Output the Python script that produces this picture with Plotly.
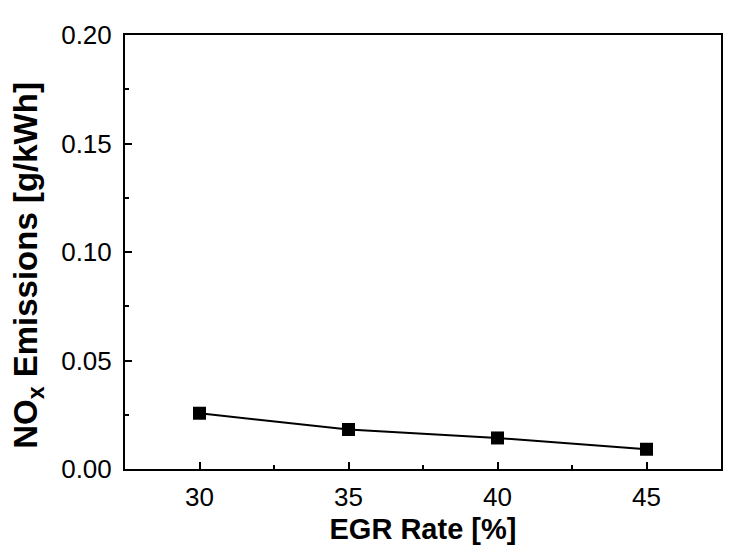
import plotly.graph_objects as go

egr_rate = [30, 35, 40, 45]
nox = [0.0257, 0.0182, 0.0143, 0.0091]

fig = go.Figure()
fig.add_trace(go.Scatter(
    x=egr_rate, y=nox, mode="lines+markers",
    line=dict(color="black", width=2),
    marker=dict(symbol="square", size=13, color="black"),
    showlegend=False,
))

font_family = "Liberation Sans, Arial, sans-serif"
axis_common = dict(
    showline=True, linecolor="black", linewidth=2, mirror=True,
    ticks="inside", ticklen=7, tickwidth=1.5, tickcolor="black",
    showgrid=False, zeroline=False,
    tickfont=dict(family=font_family, size=26, color="black"),
)

fig.update_layout(
    width=749, height=559,
    margin=dict(l=117, r=36, t=22, b=98),
    plot_bgcolor="white", paper_bgcolor="white",
    xaxis=dict(
        range=[27.5, 47.5], tick0=30, dtick=5,
        minor=dict(ticks="inside", dtick=2.5, tick0=30, ticklen=4, tickwidth=1.5, tickcolor="black"),
        ticklabelstandoff=4,
        title=dict(text="<b>EGR Rate [%]</b>", font=dict(family=font_family, size=29, color="black"), standoff=7),
        **axis_common,
    ),
    yaxis=dict(
        range=[0, 0.2], tick0=0, dtick=0.05, tickformat=".2f",
        minor=dict(ticks="inside", dtick=0.025, tick0=0, ticklen=4, tickwidth=1.5, tickcolor="black"),
        ticklabelstandoff=6,
        **axis_common,
    ),
)

fig.add_annotation(
    text="<b>NO<sub style='font-size:0.85em'>x</sub> Emissions [g/kWh]</b>",
    xref="paper", yref="paper", x=-0.1628, y=0.4704,
    xanchor="center", yanchor="middle", textangle=-90, showarrow=False,
    font=dict(family=font_family, size=33, color="black"),
)

fig.write_html("out.html")
